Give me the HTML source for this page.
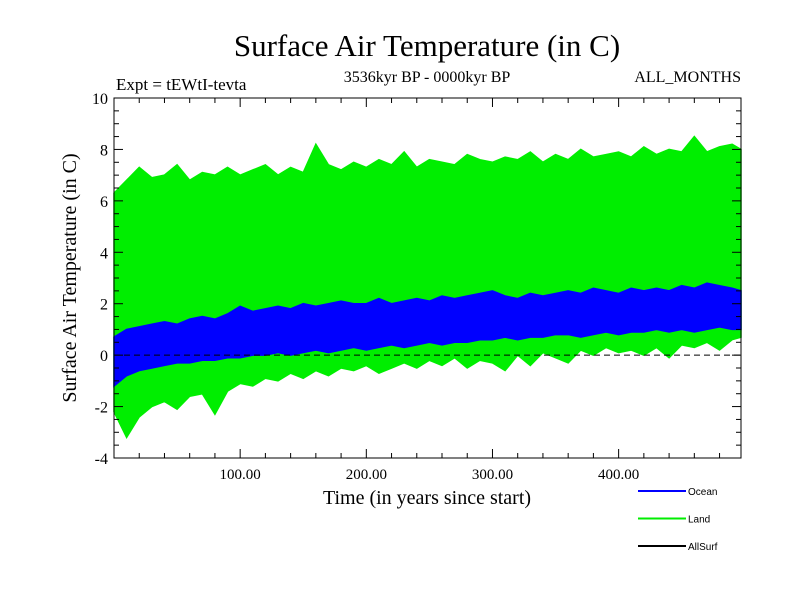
<!DOCTYPE html>
<html><head><meta charset="utf-8"><style>body{margin:0;background:#fff}svg{display:block}</style></head>
<body>
<svg id="chart" width="800" height="600" font-family="Liberation Serif, serif">
<text x="427" y="56" font-size="31" text-anchor="middle">Surface Air Temperature (in C)</text>
<text x="116" y="90" font-size="17">Expt = tEWtI-tevta</text>
<text x="427" y="82" font-size="16" text-anchor="middle">3536kyr BP - 0000kyr BP</text>
<text x="741" y="82" font-size="16" text-anchor="end">ALL_MONTHS</text>
<text transform="translate(76,278) rotate(-90)" font-size="20" text-anchor="middle">Surface Air Temperature (in C)</text>
<text x="427" y="504" font-size="20" text-anchor="middle">Time (in years since start)</text>
<g id="marks"></g>
<g id="axes"></g>
<g id="legend" font-family="Liberation Sans, sans-serif" font-size="10"></g>
</svg>
<script>
const years=[0,10,20,30,40,50,60,70,80,90,100,110,120,130,140,150,160,170,180,190,200,210,220,230,240,250,260,270,280,290,300,310,320,330,340,350,360,370,380,390,400,410,420,430,440,450,460,470,480,490,500];
const landMax=[6.3,6.8,7.3,6.9,7.0,7.4,6.8,7.1,7.0,7.3,7.0,7.2,7.4,7.0,7.3,7.1,8.2,7.4,7.2,7.5,7.3,7.6,7.4,7.9,7.3,7.6,7.5,7.4,7.8,7.6,7.5,7.7,7.6,7.9,7.5,7.8,7.6,8.0,7.7,7.8,7.9,7.7,8.1,7.8,8.0,7.9,8.5,7.9,8.1,8.2,8.0];
const landMin=[-2.2,-3.2,-2.4,-2.0,-1.8,-2.1,-1.6,-1.5,-2.3,-1.4,-1.1,-1.2,-0.9,-1.0,-0.7,-0.9,-0.6,-0.8,-0.5,-0.6,-0.4,-0.7,-0.5,-0.3,-0.5,-0.2,-0.4,-0.1,-0.5,-0.2,-0.3,-0.6,0.0,-0.4,0.1,-0.1,-0.3,0.2,0.0,0.3,0.1,0.2,0.0,0.3,-0.1,0.4,0.3,0.5,0.2,0.6,0.7];
const oceanMax=[0.7,1.0,1.1,1.2,1.3,1.2,1.4,1.5,1.4,1.6,1.9,1.7,1.8,1.9,1.8,2.0,1.9,2.0,2.1,2.0,2.0,2.2,2.0,2.1,2.2,2.1,2.3,2.2,2.3,2.4,2.5,2.3,2.2,2.4,2.3,2.4,2.5,2.4,2.6,2.5,2.4,2.6,2.5,2.6,2.5,2.7,2.6,2.8,2.7,2.6,2.5];
const oceanMin=[-1.2,-0.8,-0.6,-0.5,-0.4,-0.3,-0.3,-0.2,-0.2,-0.1,-0.1,0.0,0.0,0.1,0.0,0.1,0.2,0.1,0.2,0.3,0.2,0.3,0.4,0.3,0.4,0.5,0.4,0.5,0.5,0.6,0.6,0.7,0.6,0.7,0.7,0.8,0.8,0.7,0.8,0.9,0.8,0.9,0.9,1.0,0.9,1.0,0.9,1.0,1.1,1.0,1.0];
const yTicks=[-4,-2,0,2,4,6,8,10];
const xTicks=[100,200,300,400];
const xTickLabels=["100.00","200.00","300.00","400.00"];
const legendNames=["Ocean","Land","AllSurf"];
const legendColors=["#0000ff","#00ee00","#000000"];

const L=114,R=741,T=98,B=458,X0=0,X1=497,Y0=-4,Y1=10;
const NS="http://www.w3.org/2000/svg";
function sx(v){return L+(v-X0)/(X1-X0)*(R-L);}
function sy(v){return B-(v-Y0)/(Y1-Y0)*(B-T);}
function mk(tag,attrs,parent){const e=document.createElementNS(NS,tag);for(const k in attrs)e.setAttribute(k,attrs[k]);parent.appendChild(e);return e;}
const marks=document.getElementById('marks'),axes=document.getElementById('axes'),legend=document.getElementById('legend');
function band(hi,lo,color,name){
  let pts=[];
  for(let i=0;i<years.length;i++)pts.push(Math.min(sx(years[i]),R)+','+sy(hi[i]));
  for(let i=years.length-1;i>=0;i--)pts.push(Math.min(sx(years[i]),R)+','+sy(lo[i]));
  const p=mk('polygon',{points:pts.join(' '),fill:color,stroke:color,'stroke-width':1.5},marks);
  
  
}
band(landMax,landMin,'#00ee00','land-series');
band(oceanMax,oceanMin,'#0000ff','ocean-series');
const z=mk('line',{x1:L,x2:R,y1:sy(0),y2:sy(0),stroke:'#000','stroke-dasharray':'6,4','stroke-width':1},marks);


const fr=mk('rect',{x:L,y:T,width:R-L,height:B-T,fill:'none',stroke:'#000','stroke-width':1},axes);


for(let v=Y0;v<=Y1;v+=0.5){const maj=(v%2===0);const len=maj?9:5;
  mk('line',{x1:L,x2:L+len,y1:sy(v),y2:sy(v),stroke:'#000'},axes);
  mk('line',{x1:R,x2:R-len,y1:sy(v),y2:sy(v),stroke:'#000'},axes);}
yTicks.forEach(v=>{const t=mk('text',{x:L-6,y:sy(v)+6,'text-anchor':'end','font-size':16},axes);t.textContent=v;
  
  });
for(let v=20;v<X1;v+=20){const maj=(v%100===0);const len=maj?9:5;
  mk('line',{x1:sx(v),x2:sx(v),y1:B,y2:B-len,stroke:'#000'},axes);
  mk('line',{x1:sx(v),x2:sx(v),y1:T,y2:T+len,stroke:'#000'},axes);}
xTicks.forEach((v,i)=>{const t=mk('text',{x:sx(v),y:B+21,'text-anchor':'middle','font-size':15},axes);t.textContent=xTickLabels[i];
  
  });
legendNames.forEach((n,i)=>{const y=491+i*27.5;
  const l=mk('line',{x1:638,x2:686,y1:y,y2:y,stroke:legendColors[i],'stroke-width':2},legend);
  
  
  const t=mk('text',{x:688,y:y+4},legend);t.textContent=n;
  
  });
</script>
</body></html>
